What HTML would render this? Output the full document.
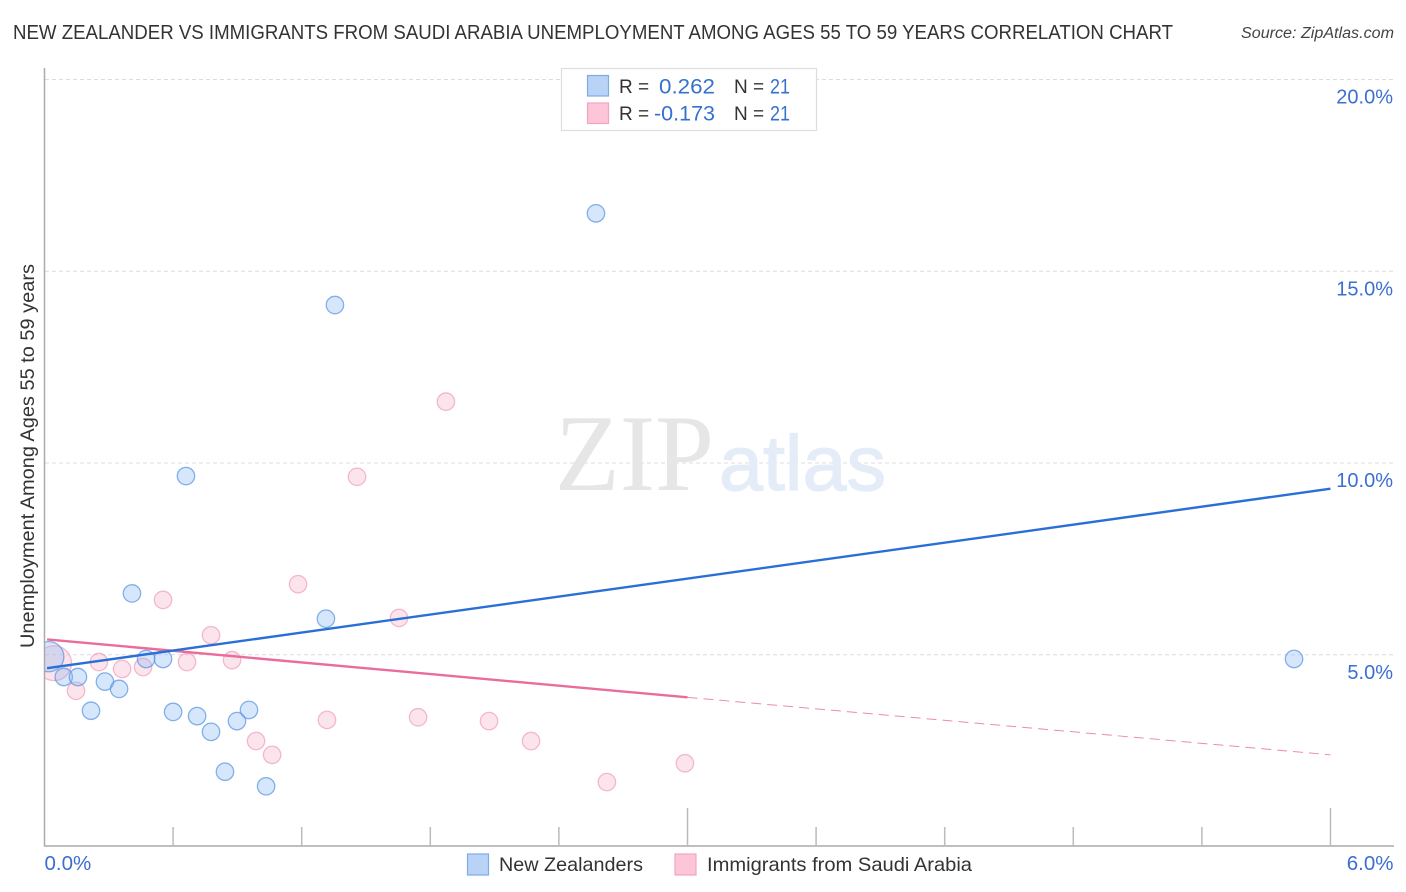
<!DOCTYPE html>
<html>
<head>
<meta charset="utf-8">
<title>Correlation chart</title>
<style>
html,body{margin:0;padding:0;background:#fff;width:1406px;height:892px;overflow:hidden}
svg{display:block;font-family:"Liberation Sans",sans-serif}
</style>
</head>
<body>
<svg id="chart" xmlns="http://www.w3.org/2000/svg" width="1406" height="892" viewBox="0 0 1406 892">
  <defs><clipPath id="plot-clip"><rect x="45" y="60" width="1350" height="786"/></clipPath></defs>
  <rect width="1406" height="892" fill="#fff"/>
  <text x="13" y="39" font-size="20" fill="#333" textLength="1160" lengthAdjust="spacingAndGlyphs">NEW ZEALANDER VS IMMIGRANTS FROM SAUDI ARABIA UNEMPLOYMENT AMONG AGES 55 TO 59 YEARS CORRELATION CHART</text>
  <text x="1394" y="38" font-size="15.5" font-style="italic" fill="#444" text-anchor="end" textLength="153" lengthAdjust="spacingAndGlyphs">Source: ZipAtlas.com</text>
  <g id="grid"></g>
  <g>
    <text x="555" y="490" font-family="'Liberation Serif',serif" font-size="109" fill="#e6e6e6" textLength="159" lengthAdjust="spacingAndGlyphs">ZIP</text>
    <text x="719" y="490" font-size="78" fill="#e4ecf8" stroke="#e4ecf8" stroke-width="1.2" textLength="167" lengthAdjust="spacingAndGlyphs">atlas</text>
  </g>
  <g id="axes"></g>
  <g id="points" clip-path="url(#plot-clip)"></g>
  <g id="trends"></g>
  <text transform="translate(34,456) rotate(-90)" font-size="19.5" fill="#333" text-anchor="middle" textLength="384" lengthAdjust="spacingAndGlyphs">Unemployment Among Ages 55 to 59 years</text>
  <g>
    <rect x="561.5" y="68.5" width="255" height="62" fill="#fff" stroke="#ddd" stroke-width="1.2"/>
    <rect x="587.5" y="75.5" width="21" height="20.5" fill="#b9d3f7" stroke="#7fabe6" stroke-width="1.2"/>
    <rect x="587.5" y="103" width="21" height="20.5" fill="#fcc6d8" stroke="#f3a5c0" stroke-width="1.2"/>
    <text x="619" y="93" font-size="19" fill="#333">R =</text>
    <text x="715" y="93.5" font-size="21.5" fill="#3571cf" text-anchor="end" textLength="56" lengthAdjust="spacingAndGlyphs">0.262</text>
    <text x="734" y="93" font-size="19" fill="#333">N =</text>
    <text x="770" y="93.5" font-size="21.5" fill="#3571cf" textLength="20" lengthAdjust="spacingAndGlyphs">21</text>
    <text x="619" y="120" font-size="19" fill="#333">R =</text>
    <text x="715" y="120.5" font-size="21.5" fill="#3571cf" text-anchor="end" textLength="61" lengthAdjust="spacingAndGlyphs">-0.173</text>
    <text x="734" y="120" font-size="19" fill="#333">N =</text>
    <text x="770" y="120.5" font-size="21.5" fill="#3571cf" textLength="20" lengthAdjust="spacingAndGlyphs">21</text>
  </g>
  <g>
    <rect x="467.5" y="854" width="21" height="21" fill="#b9d3f7" stroke="#7fabe6" stroke-width="1.2"/>
    <text x="499" y="871" font-size="19.5" fill="#333" textLength="144" lengthAdjust="spacingAndGlyphs">New Zealanders</text>
    <rect x="675" y="854" width="21" height="21" fill="#fcc6d8" stroke="#f3a5c0" stroke-width="1.2"/>
    <text x="707" y="871" font-size="19.5" fill="#333" textLength="265" lengthAdjust="spacingAndGlyphs">Immigrants from Saudi Arabia</text>
  </g>
</svg>
<script>
const yTicks = [5, 10, 15, 20];
const yTickLabels = ["5.0%", "10.0%", "15.0%", "20.0%"];
const xTicks = [0.6, 1.2, 1.8, 2.4, 3.0, 3.6, 4.2, 4.8, 5.4, 6.0];
const xMajorTicks = [3.0, 6.0];
const xEndValues = [0, 6];
const xEndLabels = ["0.0%", "6.0%"];

const blueX = [0.02, 0.09, 0.156, 0.217, 0.282, 0.348, 0.408, 0.474, 0.553, 0.6, 0.66, 0.712, 0.777, 0.842, 0.898, 0.954, 1.034, 1.313, 1.355, 2.573, 5.83];
const blueY = [4.95, 4.42, 4.42, 3.54, 4.3, 4.11, 6.6, 4.89, 4.89, 3.51, 9.66, 3.4, 2.99, 1.95, 3.27, 3.56, 1.57, 5.94, 14.12, 16.51, 4.89];
const blueWeight = [3, 1, 1, 1, 1, 1, 1, 1, 1, 1, 1, 1, 1, 1, 1, 1, 1, 1, 1, 1, 1];

const pinkX = [0.045, 0.147, 0.254, 0.362, 0.46, 0.553, 0.665, 0.777, 0.875, 0.987, 1.062, 1.183, 1.318, 1.458, 1.654, 1.743, 1.873, 2.074, 2.27, 2.624, 2.988];
const pinkY = [4.78, 4.06, 4.81, 4.63, 4.68, 6.43, 4.81, 5.51, 4.86, 2.75, 2.39, 6.84, 3.3, 9.64, 5.96, 3.37, 11.6, 3.27, 2.75, 1.68, 2.17];
const pinkWeight = [4, 1, 1, 1, 1, 1, 1, 1, 1, 1, 1, 1, 1, 1, 1, 1, 1, 1, 1, 1, 1];

const blueTrendX = [0.012, 6];
const blueTrendY = [4.65, 9.33];
const pinkTrendX = [0.012, 3.0];
const pinkTrendY = [5.4, 3.89];
const pinkDashX = [3.0, 6];
const pinkDashY = [3.89, 2.39];

const NS = "http://www.w3.org/2000/svg";
const xScale = v => 44.5 + v * 214.33;
const yScale = v => 846.5 - v * 38.35;
const radius = w => 8.7 * Math.sqrt(w);

function make(tag, attrs, parent) {
  const el = document.createElementNS(NS, tag);
  for (const k in attrs) el.setAttribute(k, attrs[k]);
  parent.appendChild(el);
  return el;
}

const grid = document.getElementById("grid");
const axes = document.getElementById("axes");
const points = document.getElementById("points");
const trends = document.getElementById("trends");

yTicks.forEach((v, i) => {
  const line = make("line", {x1: 45, x2: 1394, y1: yScale(v), y2: yScale(v), stroke: "#dcdcdc", "stroke-width": 1, "stroke-dasharray": "4 3"}, grid);
  
  
  const label = make("text", {x: 1393, y: yScale(v) + 24, "font-size": 20, fill: "#3b6fd0", "text-anchor": "end"}, axes);
  
  
  label.textContent = yTickLabels[i];
});

const yAxis = make("line", {x1: 44.5, x2: 44.5, y1: 68, y2: 846.5, stroke: "#aaa", "stroke-width": 1.5}, axes);


const xAxis = make("line", {x1: 44, x2: 1394, y1: 846, y2: 846, stroke: "#aaa", "stroke-width": 1.5}, axes);



xTicks.forEach(v => {
  const top = xMajorTicks.includes(v) ? 808 : 827;
  const tick = make("line", {x1: xScale(v), x2: xScale(v), y1: top, y2: 846, stroke: "#bbb", "stroke-width": 1.5}, axes);
  
  
});

xEndValues.forEach((v, i) => {
  const label = make("text", {x: i === 0 ? xScale(v) : xScale(v) + 63, y: 870, "font-size": 20.5, fill: "#3b6fd0", "text-anchor": i === 0 ? "start" : "end"}, axes);
  
  
  label.textContent = xEndLabels[i];
});

pinkX.forEach((v, i) => {
  const dot = make("circle", {cx: xScale(v), cy: yScale(pinkY[i]), r: radius(pinkWeight[i]), fill: "rgba(246,170,196,0.32)", stroke: "rgba(240,150,185,0.65)", "stroke-width": 1.3}, points);
  
  
});
blueX.forEach((v, i) => {
  const dot = make("circle", {cx: xScale(v), cy: yScale(blueY[i]), r: radius(blueWeight[i]), fill: "rgba(140,185,243,0.35)", stroke: "rgba(85,145,225,0.7)", "stroke-width": 1.3}, points);
  
  
});

const pinkDash = make("line", {x1: xScale(pinkDashX[0]), y1: yScale(pinkDashY[0]), x2: xScale(pinkDashX[1]), y2: yScale(pinkDashY[1]), stroke: "#ea6c9c", "stroke-width": 1, "stroke-dasharray": "10 6", opacity: 0.8}, trends);


const pinkLine = make("line", {x1: xScale(pinkTrendX[0]), y1: yScale(pinkTrendY[0]), x2: xScale(pinkTrendX[1]), y2: yScale(pinkTrendY[1]), stroke: "#ea6c9c", "stroke-width": 2.4}, trends);


const blueLine = make("line", {x1: xScale(blueTrendX[0]), y1: yScale(blueTrendY[0]), x2: xScale(blueTrendX[1]), y2: yScale(blueTrendY[1]), stroke: "#2a6fd6", "stroke-width": 2.4}, trends);


</script>
</body>
</html>
